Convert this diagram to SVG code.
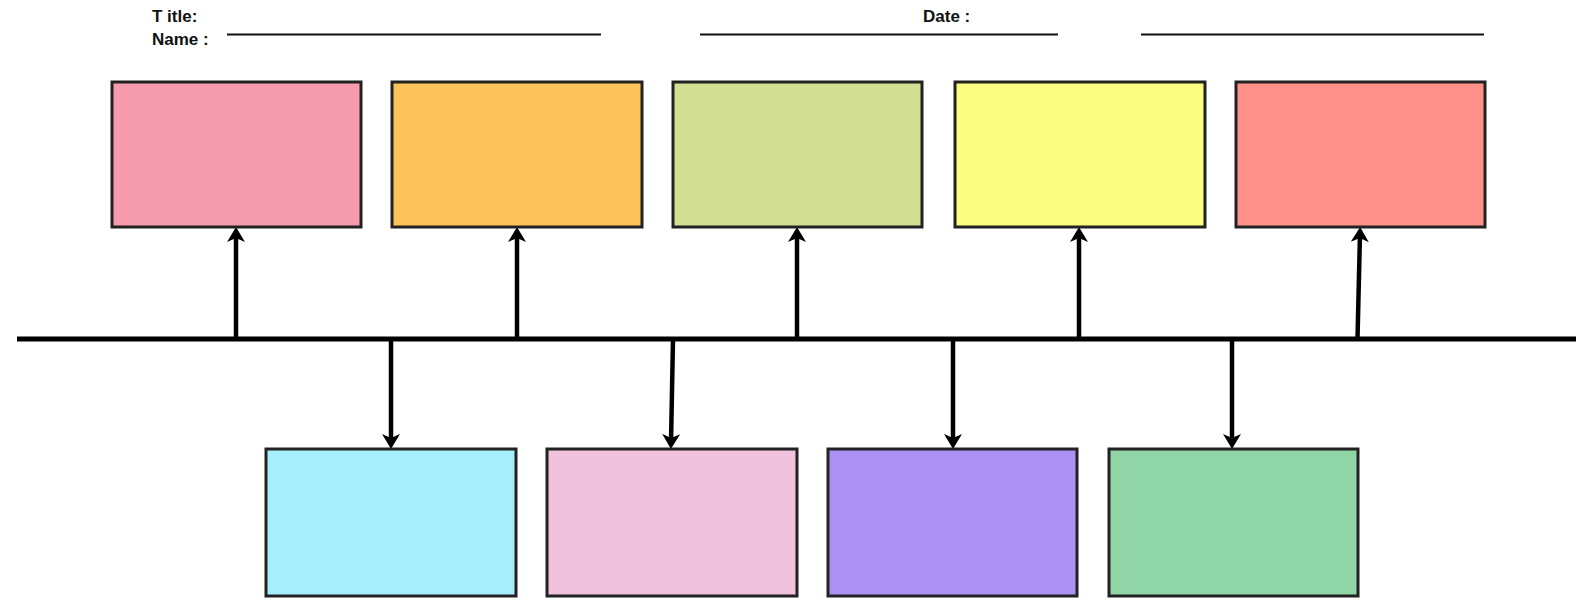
<svg xmlns="http://www.w3.org/2000/svg" width="1594" height="600" viewBox="0 0 1594 600">
  <style>
    .label { font-family: "Liberation Sans", Arial, sans-serif; font-weight: bold; font-size: 17px; fill: #111; }
    .rule { stroke: #111; stroke-width: 2.2; }
    .box { stroke: #222; stroke-width: 3; }
    .axis { stroke: #000; stroke-width: 5; }
    .stem { stroke: #000; stroke-width: 4.5; fill: none; marker-end: url(#head); }
  </style>
  <defs>
    <marker id="head" markerUnits="userSpaceOnUse" markerWidth="16" markerHeight="20" viewBox="0 0 16 20" refX="9" refY="10" orient="auto">
      <path d="M15,10 L0,1 L4,10 L0,19 Z" fill="#000"/>
    </marker>
  </defs>
  <rect width="1594" height="600" fill="#fff"/>

  <!-- header fields -->
  <g id="header">
    <text class="label" x="152" y="22">T itle:</text>
    <text class="label" x="152" y="45">Name :</text>
    <text class="label" x="923" y="22">Date :</text>
    <line class="rule" x1="227" y1="34.5" x2="601" y2="34.5"/>
    <line class="rule" x1="700" y1="34.5" x2="1058" y2="34.5"/>
    <line class="rule" x1="1141" y1="34.5" x2="1484" y2="34.5"/>
  </g>

  <!-- timeline and branch arrows -->
  <g id="connectors">
    <line class="axis" x1="17" y1="339" x2="1576" y2="339"/>
    <line class="stem" x1="236" y1="339" x2="236" y2="233"/>
    <line class="stem" x1="517" y1="339" x2="517" y2="233"/>
    <line class="stem" x1="797" y1="339" x2="797" y2="233"/>
    <line class="stem" x1="1079" y1="339" x2="1079" y2="233"/>
    <line class="stem" x1="1357.5" y1="339" x2="1360" y2="233"/>
    <line class="stem" x1="391" y1="339" x2="391" y2="443"/>
    <line class="stem" x1="673" y1="339" x2="671" y2="443"/>
    <line class="stem" x1="953" y1="339" x2="953" y2="443"/>
    <line class="stem" x1="1232" y1="339" x2="1232" y2="443"/>
  </g>

  <!-- upper row -->
  <g id="node-up-1"><rect class="box" x="112" y="82" width="249" height="145" fill="#F69AAD"/></g>
  <g id="node-up-2"><rect class="box" x="392" y="82" width="250" height="145" fill="#FDC35B"/></g>
  <g id="node-up-3"><rect class="box" x="673" y="82" width="249" height="145" fill="#D3E093"/></g>
  <g id="node-up-4"><rect class="box" x="955" y="82" width="250" height="145" fill="#FCFC80"/></g>
  <g id="node-up-5"><rect class="box" x="1236" y="82" width="249" height="145" fill="#FF9189"/></g>

  <!-- lower row -->
  <g id="node-down-1"><rect class="box" x="266" y="449" width="250" height="147" fill="#A6EEFC"/></g>
  <g id="node-down-2"><rect class="box" x="547" y="449" width="250" height="147" fill="#F0C2DC"/></g>
  <g id="node-down-3"><rect class="box" x="828" y="449" width="249" height="147" fill="#AC91F5"/></g>
  <g id="node-down-4"><rect class="box" x="1109" y="449" width="249" height="147" fill="#90D5A6"/></g>
</svg>
